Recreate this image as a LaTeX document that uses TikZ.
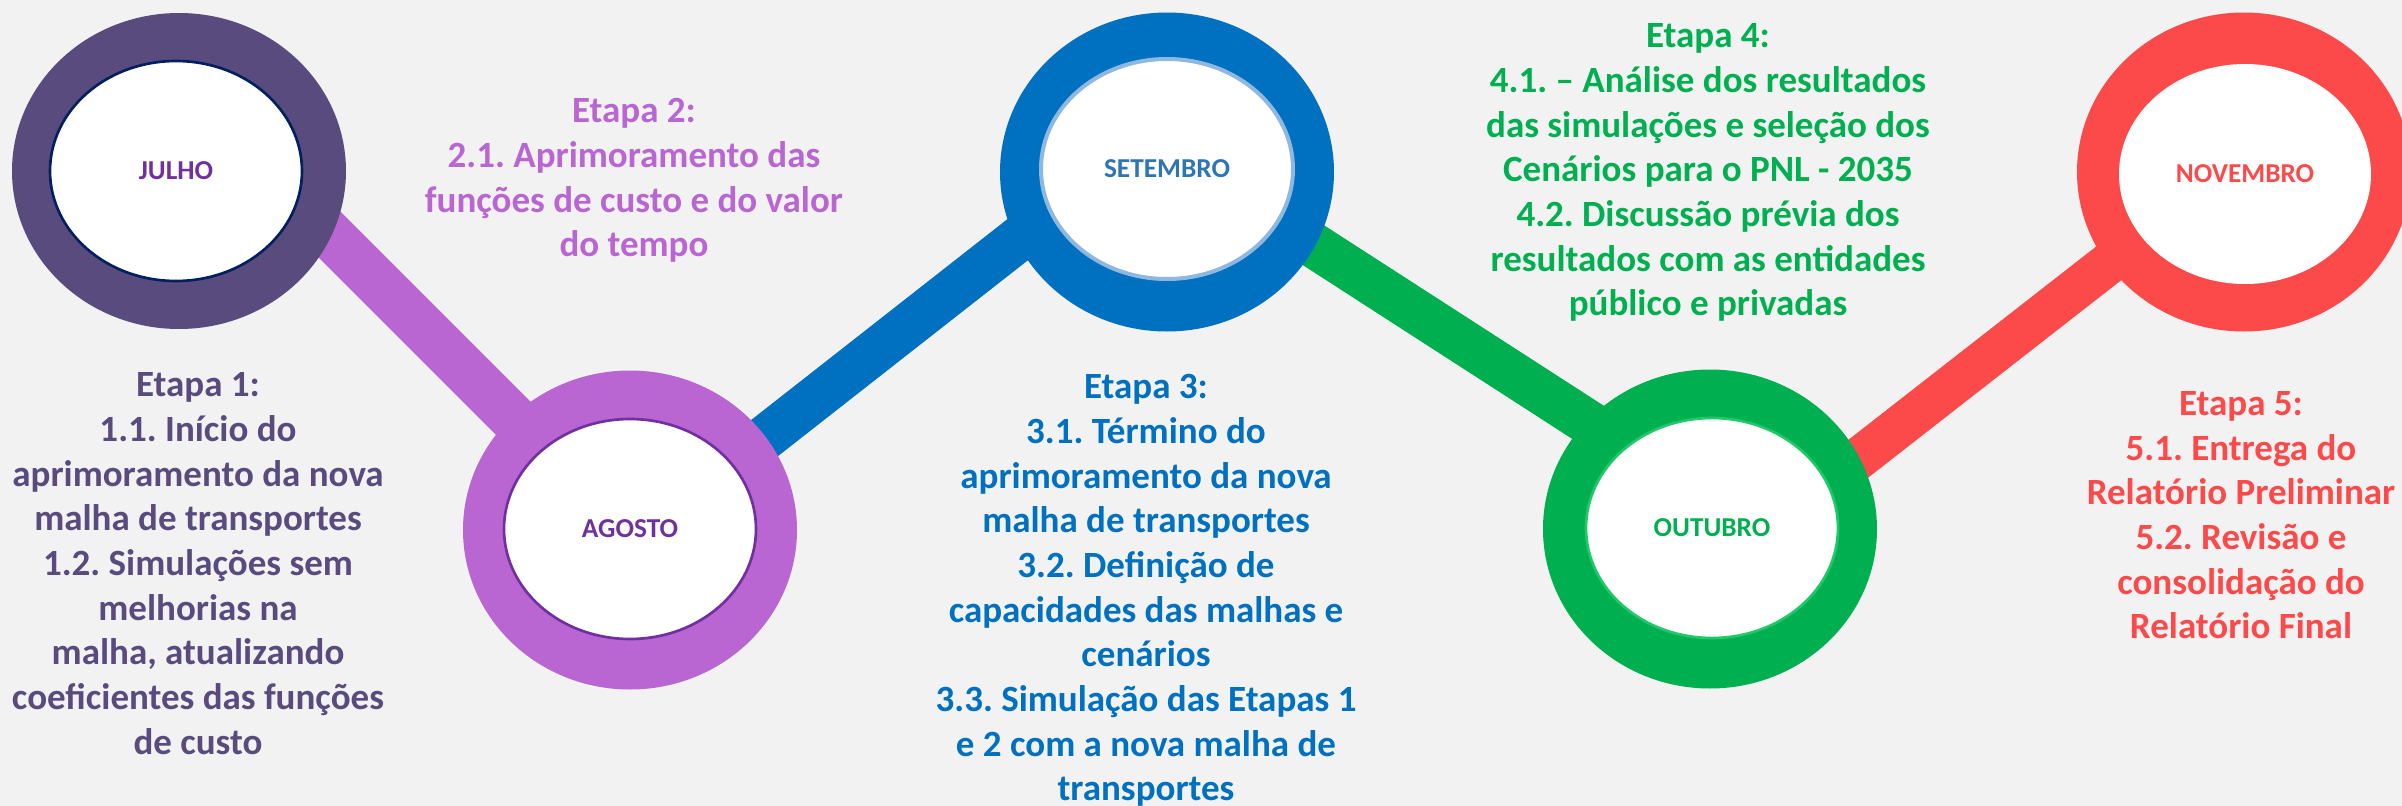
\documentclass[tikz,border=0pt]{standalone}
\usepackage{fontspec}
\setmainfont{Carlito}
\usetikzlibrary{shapes.geometric}
\definecolor{cJul}{HTML}{5A4B7F}
\definecolor{cAgo}{HTML}{B966D3}
\definecolor{cSet}{HTML}{0070C0}
\definecolor{cOut}{HTML}{00B050}
\definecolor{cNov}{HTML}{FC4A4A}
\definecolor{cBg}{HTML}{F2F2F2}
\definecolor{cPurpleTxt}{HTML}{7030A0}
\definecolor{cSetTxt}{HTML}{2E75B6}
\definecolor{cNavy}{HTML}{002060}
\definecolor{cSetEdge}{HTML}{8FB8E0}
\definecolor{cOutEdge}{HTML}{20C868}
\frenchspacing
\begin{document}
\begin{tikzpicture}[x=0.3pt,y=-0.3pt,
 ring/.style={ellipse, fill=#1, inner sep=0pt, minimum width=100.2pt, minimum height=95.7pt},
 hole/.style={ellipse, fill=white, inner sep=0pt, minimum width=75.6pt, minimum height=66pt, font=\fontsize{8.2}{10}\selectfont\bfseries},
 etapa/.style={anchor=north, align=center, inner sep=0pt, font=\fontsize{11.1}{13.4}\selectfont\bfseries}]
\fill[cBg] (0,0) rectangle (2402,806);
\useasboundingbox (0,0) rectangle (2402,806);
% connector end points (hidden under the rings)
\coordinate (b1a) at (630,535); \coordinate (b1b) at (250,155);
\coordinate (b2a) at (600,567); \coordinate (b2b) at (1150,136);
\coordinate (b3a) at (1200,172); \coordinate (b3b) at (1710,501);
\coordinate (b4a) at (1740,551); \coordinate (b4b) at (2245,157);
\draw[cAgo, line width=14.4pt] (b1a) -- (b1b);
\draw[cSet, line width=13.5pt] (b2a) -- (b2b);
\draw[cOut, line width=13.5pt] (b3a) -- (b3b);
\draw[cNov, line width=12.6pt] (b4a) -- (b4b);
% rings
\node[ring=cJul, minimum height=94.8pt] (julring) at (179,171) {};
\node[hole, draw=cNavy, line width=0.8pt, text=cPurpleTxt] (jul) at (176,171) {JULHO};
\node[ring=cAgo] (agoring) at (630,530) {};
\node[hole, draw=cPurpleTxt, line width=0.8pt, text=cPurpleTxt] (ago) at (630,529) {AGOSTO};
\node[ring=cSet] (setring) at (1167,172) {};
\node[hole, draw=cSetEdge, line width=1.2pt, text=cSetTxt] (set) at (1167,169) {SETEMBRO};
\node[ring=cOut] (outring) at (1710,529) {};
\node[hole, draw=cOutEdge, line width=0.8pt, text=cOut] (out) at (1712,528) {OUTUBRO};
\node[ring=cNov] (novring) at (2244,172) {};
\node[hole, text=cNov] (nov) at (2245,174) {NOVEMBRO};
% stage texts
\node[etapa, text=cJul] (e1) at (198,372) {Etapa 1:\\1.1. Início do\\aprimoramento da nova\\malha de transportes\\1.2. Simulações sem\\melhorias na\\malha, atualizando\\coeficientes das funções\\de custo};
\node[etapa, text=cAgo] (e2) at (634,98) {Etapa 2:\\2.1. Aprimoramento das\\funções de custo e do valor\\do tempo};
\node[etapa, text=cSet] (e3) at (1146,374) {Etapa 3:\\3.1. Término do\\aprimoramento da nova\\malha de transportes\\3.2. Definição de\\capacidades das malhas e\\cenários\\3.3. Simulação das Etapas 1\\e 2 com a nova malha de\\transportes};
\node[etapa, text=cOut] (e4) at (1708,23) {Etapa 4:\\4.1. – Análise dos resultados\\das simulações e seleção dos\\Cenários para o PNL - 2035\\4.2. Discussão prévia dos\\resultados com as entidades\\público e privadas};
\node[etapa, text=cNov] (e5) at (2241,391) {Etapa 5:\\5.1. Entrega do\\Relatório Preliminar\\5.2. Revisão e\\consolidação do\\Relatório Final};
\end{tikzpicture}
\end{document}
